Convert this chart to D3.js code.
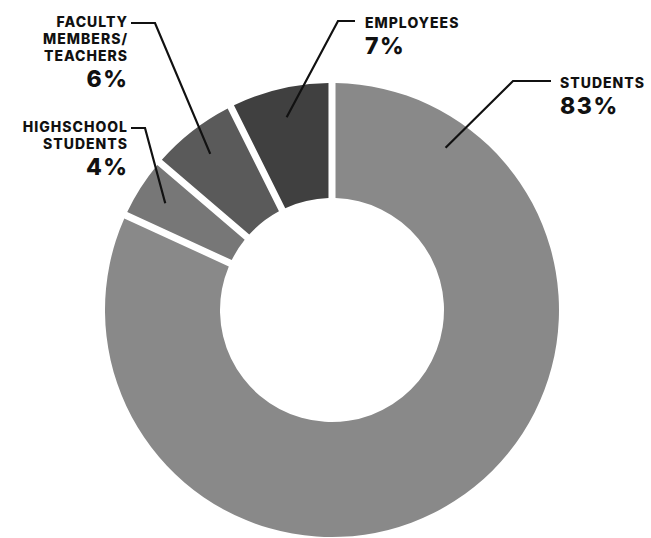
<!DOCTYPE html>
<html>
<head>
<meta charset="utf-8">
<script src="https://cdn.jsdelivr.net/npm/d3@7"></script>
<style>
  html, body { margin: 0; padding: 0; background: #fff; }
  svg { display: block; }
  .lbl { font-family: Inter, Lato, "Open Sans", sans-serif; font-weight: 800; fill: #111; }
</style>
</head>
<body>
<svg id="chart" width="651" height="538"></svg>
<script>
// Audience shares, clockwise from twelve o'clock
const categories = ["STUDENTS", "HIGHSCHOOL STUDENTS", "FACULTY MEMBERS/ TEACHERS", "EMPLOYEES"];
const shares = [83, 4, 6, 7];
const labelLines = [["STUDENTS"], ["HIGHSCHOOL", "STUDENTS"], ["FACULTY", "MEMBERS/", "TEACHERS"], ["EMPLOYEES"]];
const fills = ["#898989", "#777777", "#5a5a5a", "#404040"];

// Placement of each callout: text anchor, first baseline, elbow of the leader line
const callouts = [
  { x: 560, y: 88,  anchor: "start", elbow: [[551, 81], [513, 81]], pointerAngle: 35 },
  { x: 127, y: 132, anchor: "end",   elbow: [[131, 128], [145, 128]] },
  { x: 127, y: 27,  anchor: "end",   elbow: [[131, 23], [155, 23]] },
  { x: 365, y: 28,  anchor: "start", elbow: [[355, 21], [338, 21]] }
];

const cx = 332, cy = 310, outerR = 227, innerR = 112, pointerR = 198;

const svg = d3.select("#chart");
const g = svg.append("g").attr("transform", `translate(${cx},${cy})`);

const data = categories.map((c, i) => ({ name: c, value: shares[i], i }));

const pie = d3.pie().value(d => d.value).sort(null).padAngle(0.031);
const arcs = pie(data);

const arc = d3.arc().innerRadius(innerR).outerRadius(outerR).padRadius(outerR);

g.selectAll("path.slice")
  .data(arcs)
  .join("path")
  .attr("class", "slice")
  .attr("d", arc)
  .attr("fill", d => fills[d.data.i]);

// Leader lines and labels
const lineGen = d3.line();
arcs.forEach(a => {
  const i = a.data.i;
  const c = callouts[i];
  const ang = c.pointerAngle != null ? c.pointerAngle * Math.PI / 180 : (a.startAngle + a.endAngle) / 2;
  const tip = [cx + pointerR * Math.sin(ang), cy - pointerR * Math.cos(ang)];
  svg.append("path")
    .attr("d", lineGen([...c.elbow, tip]))
    .attr("fill", "none")
    .attr("stroke", "#111")
    .attr("stroke-width", 2.2)
    .attr("stroke-linejoin", "miter");

  // letter-spacing adds trailing space after the last glyph; shift end-anchored text to compensate
  const lines = labelLines[i];
  const text = svg.append("text")
    .attr("class", "lbl")
    .attr("text-anchor", c.anchor);
  lines.forEach((t, k) => {
    text.append("tspan")
      .attr("x", c.x + (c.anchor === "end" ? 1 : 0))
      .attr("y", c.y + k * 17)
      .attr("font-size", 14)
      .attr("letter-spacing", 1)
      .text(t);
  });
  text.append("tspan")
    .attr("x", c.x + (c.anchor === "end" ? 1.5 : 0))
    .attr("y", c.y + (lines.length - 1) * 17 + 26)
    .attr("font-size", 23)
    .attr("letter-spacing", 1.5)
    .text(`${shares[i]}%`);
});
</script>
</body>
</html>
